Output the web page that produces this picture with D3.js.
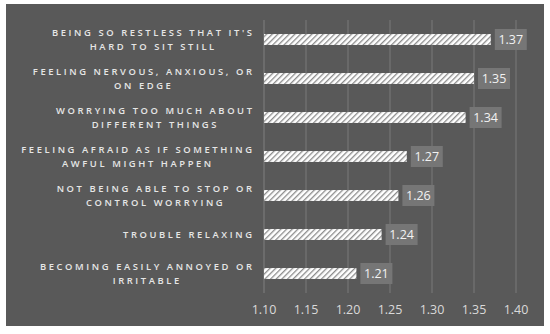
<!DOCTYPE html>
<html>
<head>
<meta charset="utf-8">
<script src="https://cdn.jsdelivr.net/npm/d3@7"></script>
<style>
  body { margin: 0; background: #fff; }
  svg { display: block; }
</style>
</head>
<body>
<div id="chart"></div>
<script>
const categories = [
  ["BEING SO RESTLESS THAT IT'S", "HARD TO SIT STILL"],
  ["FEELING NERVOUS, ANXIOUS, OR", "ON EDGE"],
  ["WORRYING TOO MUCH ABOUT", "DIFFERENT THINGS"],
  ["FEELING AFRAID AS IF SOMETHING", "AWFUL MIGHT HAPPEN"],
  ["NOT BEING ABLE TO STOP OR", "CONTROL WORRYING"],
  ["TROUBLE RELAXING"],
  ["BECOMING EASILY ANNOYED OR", "IRRITABLE"]
];
const values = [1.37, 1.35, 1.34, 1.27, 1.26, 1.24, 1.21];
const ticks = [1.10, 1.15, 1.20, 1.25, 1.30, 1.35, 1.40];

const width = 550, height = 334;
const svg = d3.select("#chart").append("svg").attr("width", width).attr("height", height);

// hatch pattern for bars
const defs = svg.append("defs");
const pat = defs.append("pattern").attr("id", "hatch")
  .attr("patternUnits", "userSpaceOnUse").attr("width", 4).attr("height", 4)
  .attr("patternTransform", "rotate(45)");
pat.append("rect").attr("width", 4).attr("height", 4).attr("fill", "#ffffff");
pat.append("rect").attr("width", 1.3).attr("height", 4).attr("fill", "#8c8c8c");

svg.append("rect").attr("x", 6).attr("y", 4).attr("width", 538).attr("height", 322).attr("fill", "#595959");

const x = d3.scaleLinear().domain([1.10, 1.40]).range([264, 516]);
const y = d3.scaleBand().domain(d3.range(categories.length)).range([20, 293]).paddingInner(0.72).paddingOuter(0.36);

// gridlines
svg.append("g").selectAll("line").data(ticks).join("line")
  .attr("x1", d => x(d)).attr("x2", d => x(d))
  .attr("y1", 20).attr("y2", 293)
  .attr("stroke", d => d === 1.10 ? "#808080" : "#7a7a7a").attr("stroke-width", 1);

// tick labels
svg.append("g").selectAll("text").data(ticks).join("text")
  .attr("x", d => x(d)).attr("y", 314)
  .attr("text-anchor", "middle")
  .attr("fill", "#d9d9d9")
  .style("font-family", "'Open Sans', sans-serif").style("font-size", "12.5px")
  .text(d => d.toFixed(2));

// bars
svg.append("g").selectAll("rect").data(values).join("rect")
  .attr("x", x(1.10)).attr("y", (d, i) => y(i))
  .attr("width", d => x(d) - x(1.10)).attr("height", y.bandwidth())
  .attr("fill", "url(#hatch)");

// value labels
const lab = svg.append("g").selectAll("g").data(values).join("g")
  .attr("transform", (d, i) => `translate(${x(d) + 4},${y(i) + y.bandwidth() / 2})`);
lab.append("rect").attr("x", 0).attr("y", -10.5).attr("width", 32).attr("height", 21).attr("fill", "#767676");
lab.append("text").attr("x", 16).attr("y", 4.5).attr("text-anchor", "middle")
  .attr("fill", "#f2f2f2")
  .style("font-family", "'Open Sans', sans-serif").style("font-size", "12.5px")
  .text(d => d.toFixed(2));

// category labels: block right-aligned, lines centred within block
const cat = svg.append("g").selectAll("text").data(categories).join("text")
  .attr("text-anchor", "middle")
  .attr("fill", "#e6e6e6")
  .style("font-family", "'Open Sans', sans-serif").style("font-size", "9.4px")
  .style("font-weight", 600)
  .style("letter-spacing", "2.6px");
cat.each(function(lines, i) {
  const t = d3.select(this);
  const cy = y(i) + y.bandwidth() / 2;
  const spans = lines.map((s, k) => {
    const off = lines.length === 1 ? 0 : (k === 0 ? -7 : 7);
    return t.append("tspan").attr("y", cy + off + 3.3).text(s);
  });
  const w = d3.max(spans, sp => sp.node().getComputedTextLength()) - 2.6;
  spans.forEach(sp => sp.attr("x", 252 - w / 2 + 1.3));
});
</script>
</body>
</html>
